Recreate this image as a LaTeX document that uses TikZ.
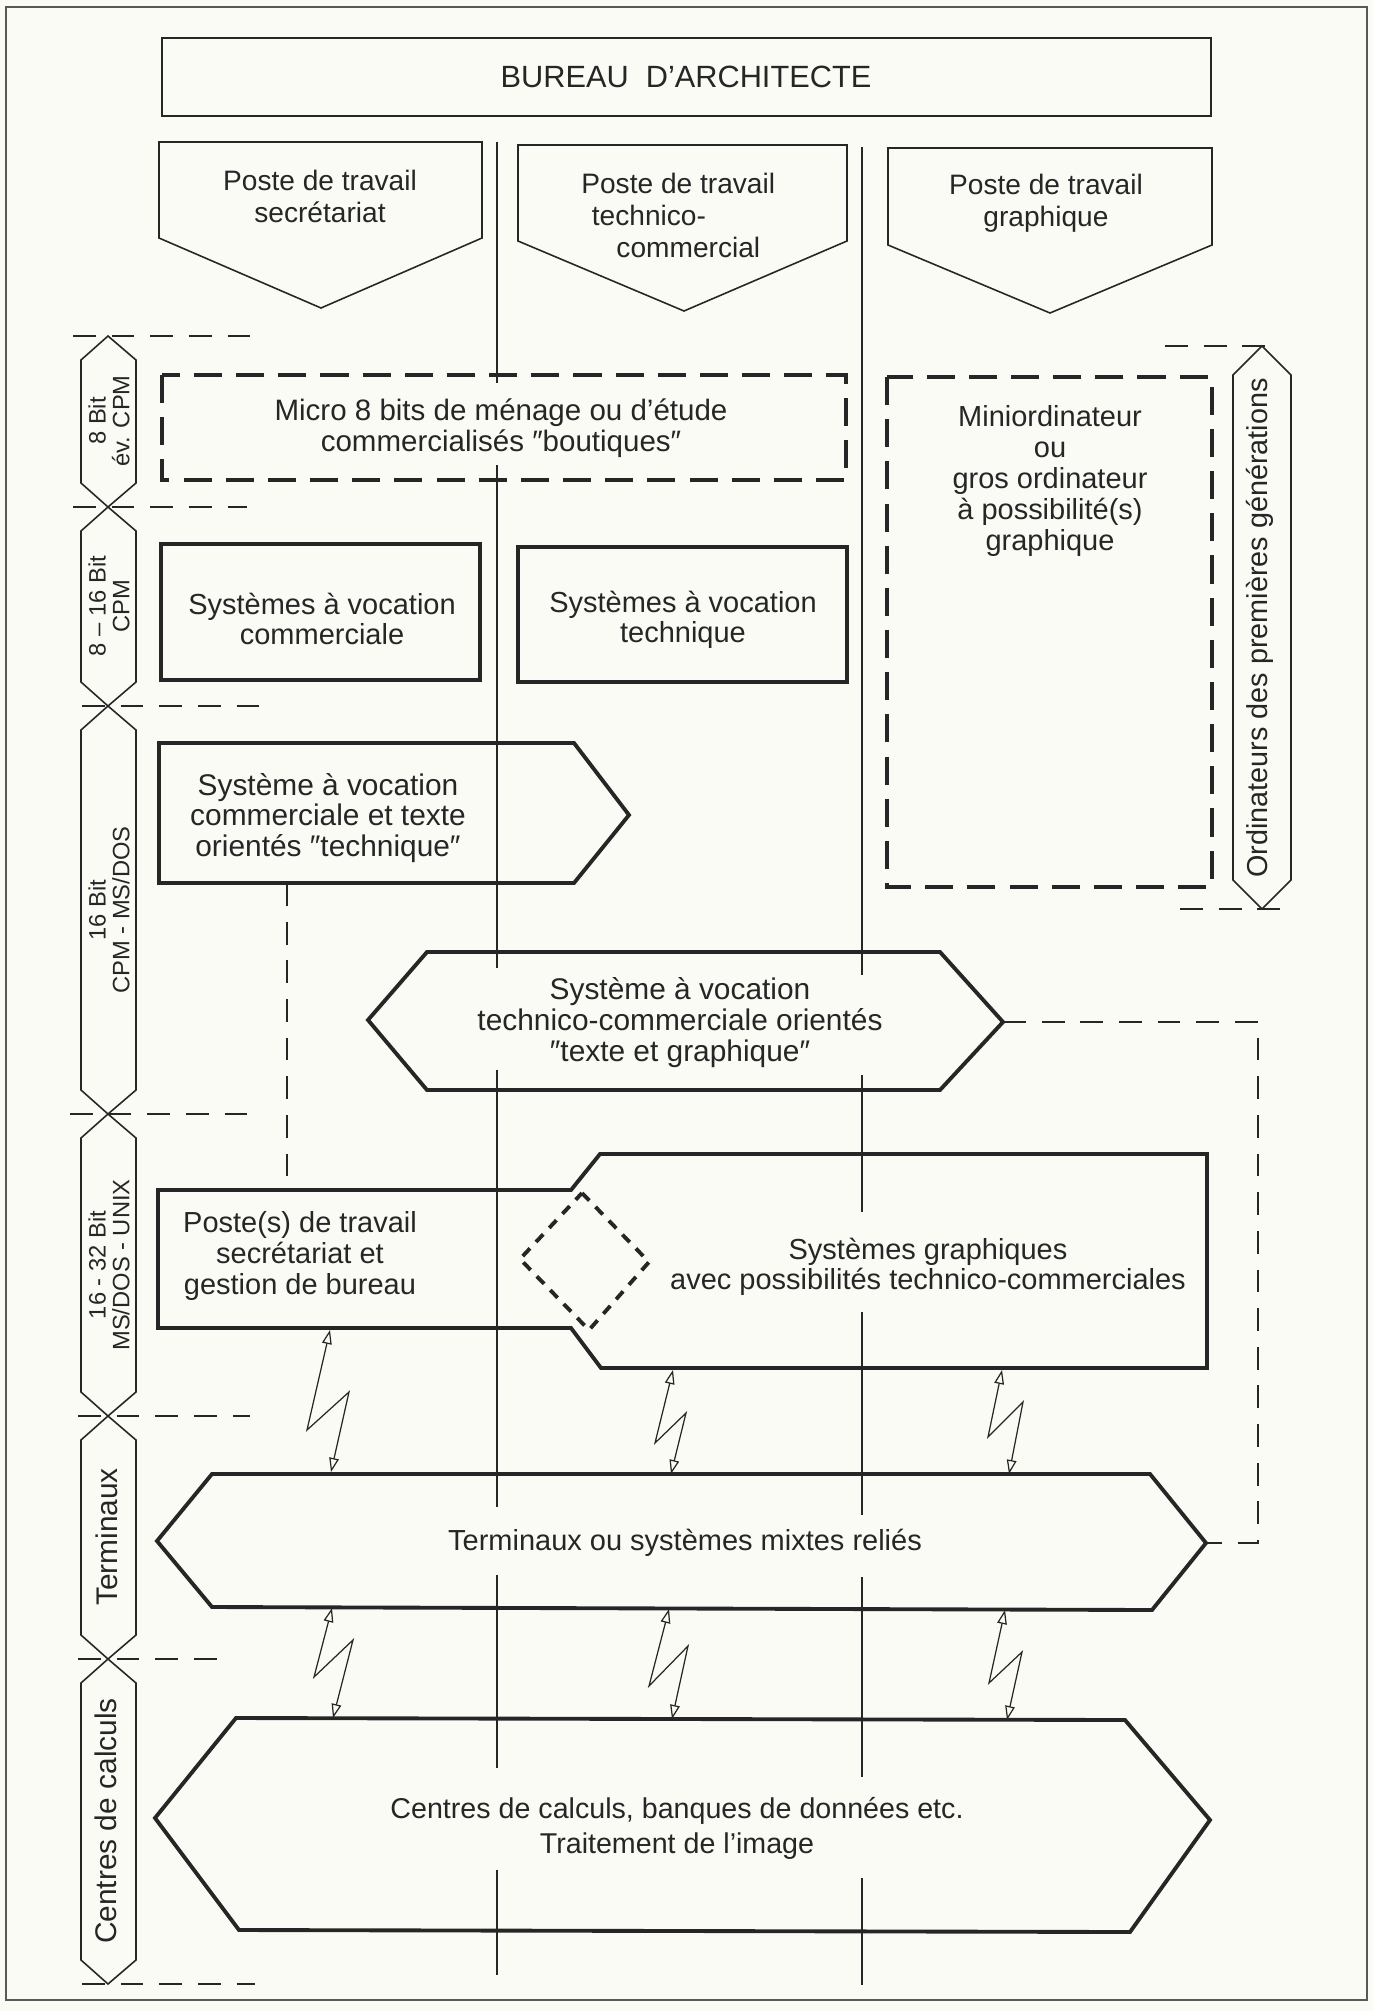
\documentclass[tikz,border=0pt]{standalone}
\usepackage{fontspec}
\setmainfont{Liberation Sans}
\usetikzlibrary{arrows.meta,calc}
\definecolor{paper}{RGB}{251,251,246}
\definecolor{ink}{RGB}{38,38,38}
\newcommand\myfs[2]{\fontsize{#1}{#2}\selectfont}
\tikzset{
  thinln/.style={draw=ink, line width=0.9pt, line join=miter},
  thickln/.style={draw=ink, line width=2.2pt, line join=miter},
  thickdash/.style={draw=ink, line width=2.8pt, dash pattern=on 16pt off 8pt},
  thindash/.style={draw=ink, line width=0.8pt, dash pattern=on 13pt off 9pt},
  diadash/.style={draw=ink, line width=2.2pt, dash pattern=on 6pt off 5pt},
  sepline/.style={draw=ink, line width=0.6pt},
  zap/.style={draw=ink, line width=0.7pt, line join=miter,
    {Triangle[open,length=8pt,width=5.5pt]}-{Triangle[open,length=8pt,width=5.5pt]}},
  txt/.style={text=ink, align=center, inner sep=0pt},
}
\begin{document}
\begin{tikzpicture}[x=0.02cm,y=-0.02cm]
\useasboundingbox (0,0) rectangle (1373,2011);
\fill[paper] (0,0) rectangle (1373,2011);
\draw[gray!70!black, line width=0.8pt] (6,7) rectangle (1367,2000);

% column separators
\foreach \a/\b in {142/383, 465/968, 1070/1507, 1575/1768, 1870/1975}
  \draw[sepline] (497,\a) -- (497,\b);
\foreach \a/\b in {147/975, 1075/1212, 1312/1515, 1577/1777, 1878/1985}
  \draw[sepline] (862,\a) -- (862,\b);

% top
\draw[thinln] (162,38) rectangle (1211,116);
\node[txt, font=\myfs{17.5}{20}] (bureau) at (686,77) {BUREAU\ \ D’ARCHITECTE};

\draw[thinln] (159,142) -- (482,142) -- (482,238) -- (321,308) -- (159,238) -- cycle;
\node[txt, font=\myfs{16}{18.2}] (poste1) at (320,196) {Poste de travail\\secrétariat};
\draw[thinln] (518,145) -- (847,145) -- (847,241) -- (684,311) -- (518,241) -- cycle;
\node[txt, anchor=west, align=left, font=\myfs{16}{18.2}] (poste2) at (581,215)
  {Poste de travail\\\hspace*{6pt}technico-\\\hspace*{20pt}commercial};
\draw[thinln] (888,148) -- (1212,148) -- (1212,245) -- (1050,313) -- (888,245) -- cycle;
\node[txt, font=\myfs{16}{18.2}] (poste3) at (1046,203) {Poste de travail\\graphique};

% level labels left
\foreach \t/\b in {336/507,507/706,706/1114,1114/1416,1416/1659,1659/1984}
  \draw[thinln] (108,\t) -- (136,\t+24) -- (136,\b-24) -- (108,\b) -- (81,\b-24) -- (81,\t+24) -- cycle;
\foreach \y/\l/\r in {336/73/253, 507/73/247, 706/82/260, 1114/70/253, 1416/78/250, 1659/78/230, 1984/82/255}
  \draw[thindash] (\l,\y) -- (\r,\y);
\node[txt, rotate=90, font=\myfs{13.5}{13.5}] (lv1) at (109,421) {8 Bit\\év. CPM};
\node[txt, rotate=90, font=\myfs{13.5}{13.5}] (lv2) at (109,606) {8 – 16 Bit\\CPM};
\node[txt, rotate=90, font=\myfs{13.5}{13.5}] (lv3) at (109,910) {16 Bit\\CPM - MS/DOS};
\node[txt, rotate=90, font=\myfs{13.5}{13.5}] (lv4) at (109,1265) {16 - 32 Bit\\MS/DOS - UNIX};
\node[txt, rotate=90, font=\myfs{17}{19}] (lv5) at (107,1537) {Terminaux};
\node[txt, rotate=90, font=\myfs{17}{19}] (lv6) at (106,1821) {Centres de calculs};

% right label
\draw[thinln] (1262,346) -- (1291,375) -- (1291,880) -- (1262,909) -- (1233,880) -- (1233,375) -- cycle;
\draw[thindash] (1165,346) -- (1280,346);
\draw[thindash] (1180,909) -- (1280,909);
\node[txt, rotate=90, font=\myfs{16.4}{18}] (ordi) at (1260,628) {Ordinateurs des premières générations};

% 8 bit row
\draw[thickdash] (162,375) rectangle (846,480);
\node[txt, font=\myfs{16.8}{17.5}] (micro) at (501,428) {Micro 8 bits de ménage ou d’étude\\commercialisés ″boutiques″};
\draw[thickdash] (887,377) rectangle (1212,887);
\node[txt, font=\myfs{16.5}{17.6}] (mini) at (1050,481) {Miniordinateur\\ou\\gros ordinateur\\à possibilité(s)\\graphique};

% 8-16 row
\draw[thickln] (161,544) rectangle (480,680);
\node[txt, font=\myfs{16.5}{17}] (syscom) at (322,619) {Systèmes à vocation\\commerciale};
\draw[thickln] (518,547) rectangle (847,682);
\node[txt, font=\myfs{16.5}{17}] (systech) at (683,620) {Systèmes à vocation\\technique};

% 16 row
\draw[thickln] (159,743) -- (574,743) -- (629,815) -- (574,883) -- (159,883) -- cycle;
\node[txt, font=\myfs{17}{17.5}] (scet) at (328,818) {Système à vocation\\commerciale et texte\\orientés ″technique″};
\draw[thickln] (368,1020) -- (427,952) -- (940,952) -- (1003,1022) -- (940,1090) -- (427,1090) -- cycle;
\node[txt, font=\myfs{17}{17.6}] (hextc) at (680,1023) {Système à vocation\\technico-commerciale orientés\\″texte et graphique″};

\coordinate (scetB) at (287,883);
\coordinate (postsT) at (287,1190);
\draw[thindash] (scetB) -- (postsT);

% 16-32 row
\draw[thickln] (571,1328) -- (158,1328) -- (158,1190) -- (571,1190) -- (600,1154) -- (1207,1154) -- (1207,1368) -- (601,1368) -- cycle;
\draw[diadash] (582,1193) -- (649,1262) -- (589,1330) -- (520,1259) -- cycle;
\node[txt, font=\myfs{16.5}{17.6}] (posts) at (300,1256) {Poste(s) de travail\\secrétariat et\\gestion de bureau};
\node[txt, font=\myfs{16.5}{17}] (sysgr) at (928,1267) {Systèmes graphiques\\avec possibilités technico-commerciales};

% terminaux
\draw[thickln] (157,1541) -- (212,1474) -- (1150,1474) -- (1206,1543) -- (1152,1610) -- (212,1607) -- cycle;
\node[txt, font=\myfs{16.5}{18}] (term) at (685,1543) {Terminaux ou systèmes mixtes reliés};

% centres
\draw[thickln] (155,1818) -- (236,1718) -- (1125,1720) -- (1210,1820) -- (1130,1932) -- (239,1930) -- cycle;
\node[txt, font=\myfs{16.3}{20}] (centres) at (677,1828) {Centres de calculs, banques de données etc.\\Traitement de l’image};

% dashed link hexagon -> terminaux
\coordinate (hexR) at (1003,1022);
\coordinate (rail) at (1258,1022);
\coordinate (termR) at (1206,1543);
\draw[thindash] (hexR) -- (rail) |- (termR);

% lightning links
\coordinate (z1a) at (330,1330); \coordinate (z1b) at (331,1472);
\coordinate (z2a) at (673,1370); \coordinate (z2b) at (671,1474);
\coordinate (z3a) at (1002,1370); \coordinate (z3b) at (1009,1474);
\coordinate (z4a) at (332,1608); \coordinate (z4b) at (333,1718);
\coordinate (z5a) at (669,1609); \coordinate (z5b) at (672,1719);
\coordinate (z6a) at (1005,1610); \coordinate (z6b) at (1007,1720);
\draw[zap] (z1a) -- ++(-23,100) -- ++(42,-38) -- (z1b);
\draw[zap] (z2a) -- ++(-18,73) -- ++(31,-30) -- (z2b);
\draw[zap] (z3a) -- ++(-14,67) -- ++(35,-35) -- (z3b);
\draw[zap] (z4a) -- ++(-18,69) -- ++(39,-37) -- (z4b);
\draw[zap] (z5a) -- ++(-20,77) -- ++(39,-40) -- (z5b);
\draw[zap] (z6a) -- ++(-16,73) -- ++(33,-31) -- (z6b);
\end{tikzpicture}
\end{document}
